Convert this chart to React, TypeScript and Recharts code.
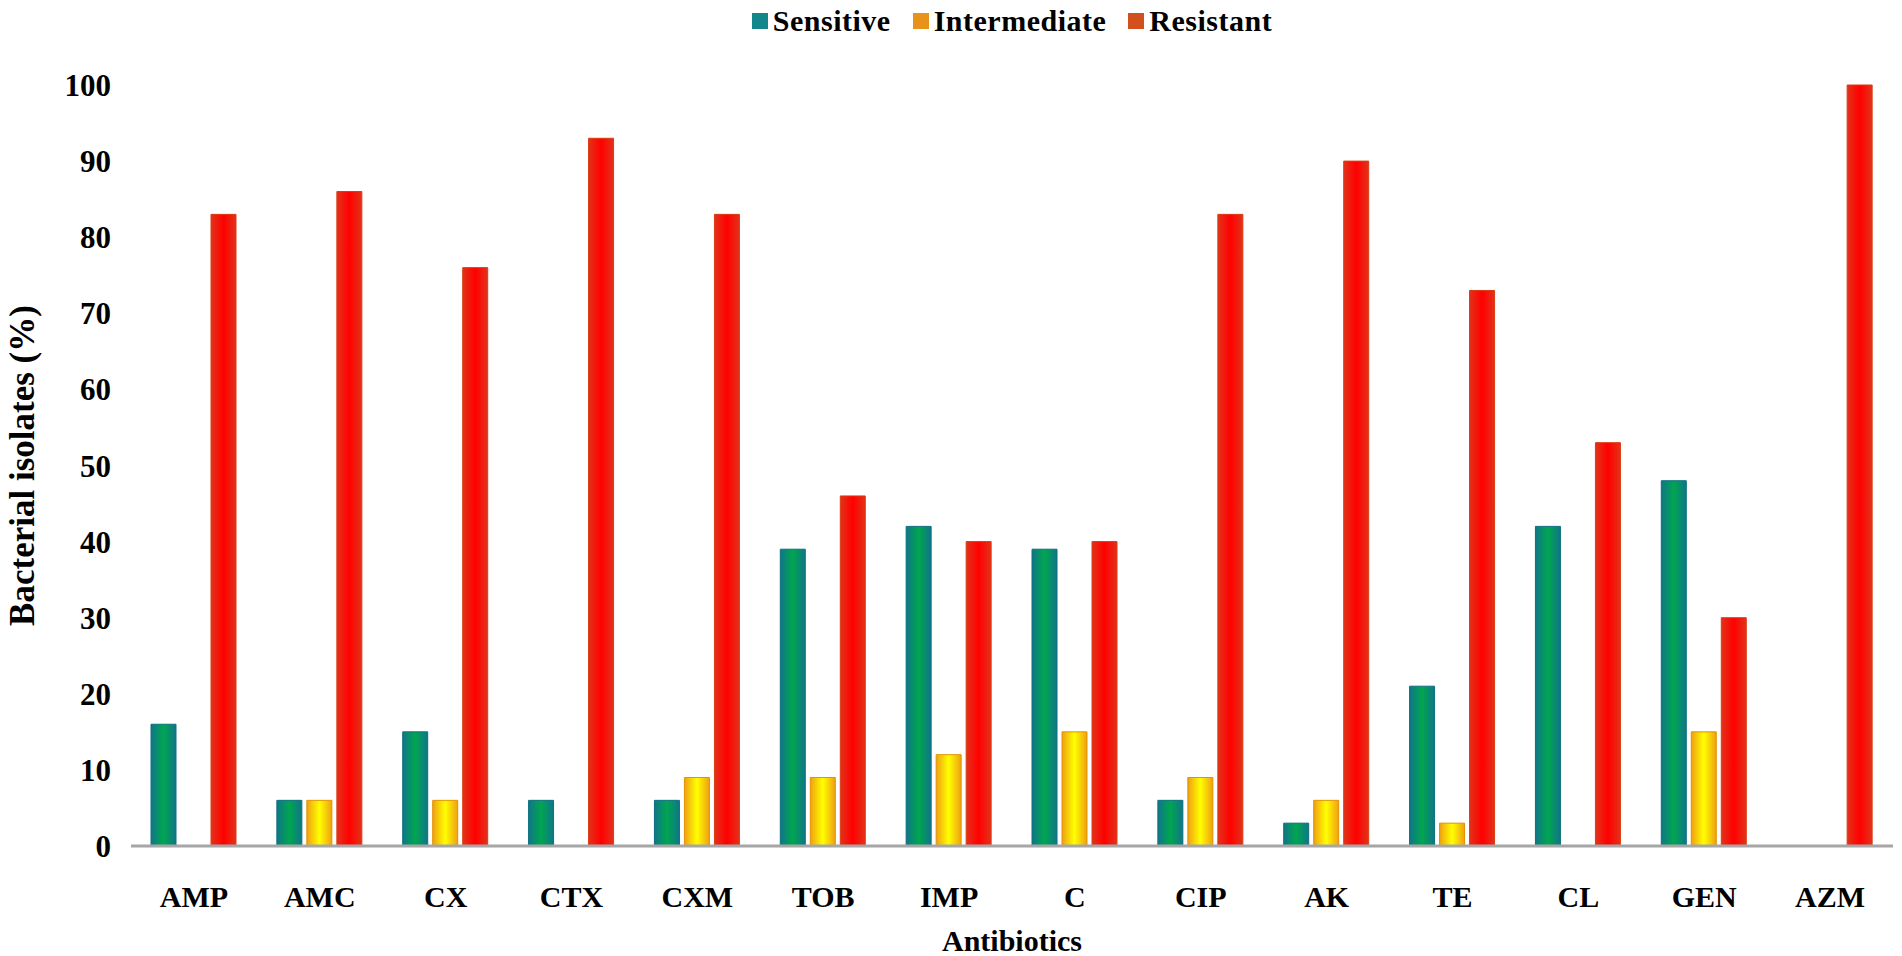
import React from 'react';
import { BarChart, Bar, XAxis, YAxis, Label } from 'recharts';

const categories = ['AMP', 'AMC', 'CX', 'CTX', 'CXM', 'TOB', 'IMP', 'C', 'CIP', 'AK', 'TE', 'CL', 'GEN', 'AZM'];
const sensitive = [16, 6, 15, 6, 6, 39, 42, 39, 6, 3, 21, 42, 48, 0];
const intermediate = [0, 6, 6, 0, 9, 9, 12, 15, 9, 6, 3, 0, 15, 0];
const resistant = [83, 86, 76, 93, 83, 46, 40, 40, 83, 90, 73, 53, 30, 100];
const yTicks = [0, 10, 20, 30, 40, 50, 60, 70, 80, 90, 100];
const seriesNames = ['Sensitive', 'Intermediate', 'Resistant'];
const legendColors = ['#13868c', '#e8921c', '#d2501e'];

const data = categories.map((name, i) => ({
  name,
  sensitive: sensitive[i],
  intermediate: intermediate[i],
  resistant: resistant[i],
}));

const FONT = '"Liberation Serif", "Times New Roman", serif';

const YTitle = (props: any) => {
  const vb = props.viewBox || { x: 0, y: 0, width: 0, height: 0 };
  const cx = vb.x + 22;
  const cy = vb.y + vb.height / 2;
  return (
    <text
      x={cx}
      y={cy}
      transform={`rotate(-90 ${cx} ${cy})`}
      textAnchor="middle"
      dominantBaseline="central"
      style={{ fontFamily: FONT, fontWeight: 'bold', fontSize: 35, fill: '#000' }}
    >
      Bacterial isolates (%)
    </text>
  );
};

export default function App() {
  return (
    <div style={{ position: 'absolute', left: 0, top: 0, width: 1902, height: 956, background: '#fff' }}>
      <div
        style={{
          position: 'absolute',
          top: 4,
          left: 131,
          width: 1762,
          display: 'flex',
          justifyContent: 'center',
          alignItems: 'center',
          fontFamily: FONT,
          fontWeight: 'bold',
          fontSize: 30,
          letterSpacing: 0.5,
          color: '#000',
        }}
      >
        {seriesNames.map((n, i) => (
          <div key={n} style={{ display: 'flex', alignItems: 'center', marginRight: i < 2 ? 22 : 0 }}>
            <span style={{ display: 'inline-block', width: 16, height: 16, background: legendColors[i], marginRight: 5 }} />
            <span>{n}</span>
          </div>
        ))}
      </div>
      <BarChart
        width={1902}
        height={956}
        data={data}
        margin={{ top: 85, right: 9, left: 0, bottom: 0 }}
        barSize={25}
        barGap={5}
      >
        <defs>
          <linearGradient id="gS" x1="0" y1="0" x2="1" y2="0">
            <stop offset="0%" stopColor="#0f7688" />
            <stop offset="50%" stopColor="#00a650" />
            <stop offset="100%" stopColor="#0f7688" />
          </linearGradient>
          <linearGradient id="gI" x1="0" y1="0" x2="1" y2="0">
            <stop offset="0%" stopColor="#efa012" />
            <stop offset="50%" stopColor="#ffff00" />
            <stop offset="100%" stopColor="#efa012" />
          </linearGradient>
          <linearGradient id="gR" x1="0" y1="0" x2="1" y2="0">
            <stop offset="0%" stopColor="#e2321a" />
            <stop offset="50%" stopColor="#ff0000" />
            <stop offset="100%" stopColor="#e2321a" />
          </linearGradient>
        </defs>
        <XAxis
          dataKey="name"
          height={110}
          interval={0}
          tickLine={false}
          tickSize={0}
          tickMargin={40}
          axisLine={{ stroke: '#a6a6a6', strokeWidth: 3 }}
          tick={{ fontFamily: FONT, fontWeight: 'bold', fontSize: 30, fill: '#000' }}
        >
          <Label
            value="Antibiotics"
            position="insideBottom"
            offset={5}
            style={{ fontFamily: FONT, fontWeight: 'bold', fontSize: 30, fill: '#000' }}
          />
        </XAxis>
        <YAxis
          width={131}
          domain={[0, 100]}
          ticks={yTicks}
          interval={0}
          axisLine={false}
          tickLine={false}
          tickSize={0}
          tickMargin={20}
          tick={{ fontFamily: FONT, fontWeight: 'bold', fontSize: 31, fill: '#000' }}
        >
          <Label content={YTitle} />
        </YAxis>
        <Bar dataKey="sensitive" name="Sensitive" fill="url(#gS)" stroke="#0e6e80" strokeWidth={1} isAnimationActive={false} />
        <Bar dataKey="intermediate" name="Intermediate" fill="url(#gI)" stroke="#e39200" strokeWidth={1} isAnimationActive={false} />
        <Bar dataKey="resistant" name="Resistant" fill="url(#gR)" stroke="#dc3a10" strokeWidth={1} isAnimationActive={false} />
      </BarChart>
    </div>
  );
}
